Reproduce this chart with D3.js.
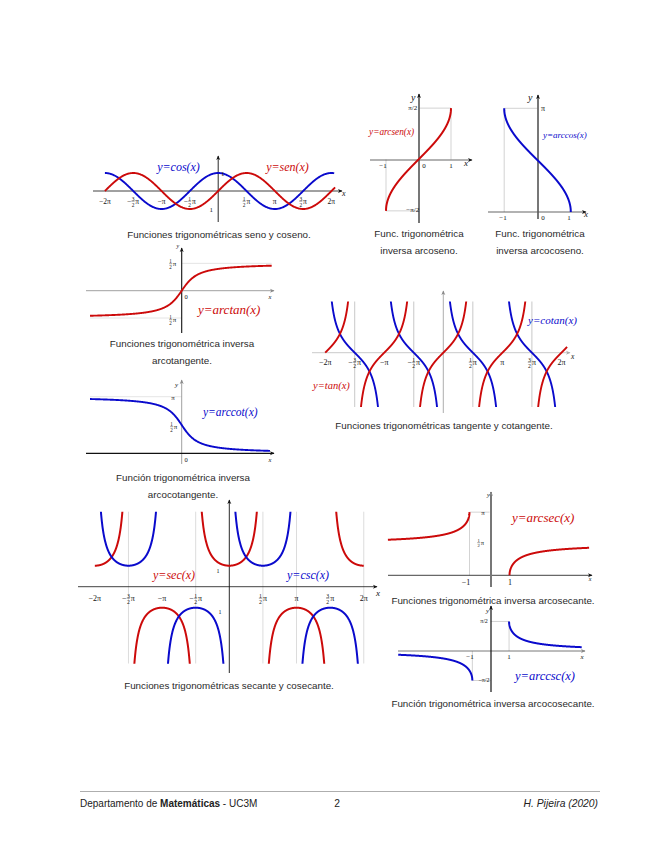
<!DOCTYPE html>
<html><head><meta charset="utf-8">
<script src="https://cdn.jsdelivr.net/npm/d3@7"></script>
<style>body{margin:0;background:#fff}</style>
</head><body><svg id="c" width="655" height="848"></svg>
<script>
const PI = Math.PI;
const RED = "#cc0a0a", BLUE = "#0a0acc", GUIDE = "#c8c8c8";
const SERIF = "'Liberation Serif', 'DejaVu Serif', serif";
const SANS = "'Liberation Sans', Arial, sans-serif";

// ---------- data ----------
const piTicks = [-2, -1.5, -1, -0.5, 0.5, 1, 1.5, 2];               // multiples of π
const piTickLabels = ["−2π", "−3/2π", "−π", "−1/2π", "1/2π", "π", "3/2π", "2π"];
const tanBranches = [[-2, -1.5], [-1.5, -0.5], [-0.5, 0.5], [0.5, 1.5], [1.5, 2.095]];
const cotBranches = [[-2, -1], [-1, 0], [0, 1], [1, 2]];
const secBranches = [[-2, -1.5], [-1.5, -0.5], [-0.5, 0.5], [0.5, 1.5], [1.5, 2]];
const cscBranches = [[-2, -1], [-1, 0], [0, 1], [1, 2]];
const tanGuides = [-1.5, -0.5, 0.5, 1.5];
const secGuides = [-1.5, -0.5, 0.5, 1, 2];
const captions = {
  sincos: ["Funciones trigonométricas seno y coseno."],
  asin: ["Func. trigonométrica", "inversa arcoseno."],
  acos: ["Func. trigonométrica", "inversa arcocoseno."],
  atan: ["Funciones trigonométrica inversa", "arcotangente."],
  tancot: ["Funciones trigonométricas tangente y cotangente."],
  acot: ["Función trigonométrica inversa", "arcocotangente."],
  seccsc: ["Funciones trigonométricas secante y cosecante."],
  asec: ["Funciones trigonométrica inversa arcosecante."],
  acsc: ["Función trigonométrica inversa arcocosecante."]
};
const fn = {
  sin: Math.sin, cos: Math.cos, tan: Math.tan, cot: x => 1 / Math.tan(x),
  sec: x => 1 / Math.cos(x), csc: x => 1 / Math.sin(x),
  asin: Math.asin, acos: Math.acos, atan: Math.atan, acot: x => PI / 2 - Math.atan(x),
  asec: x => Math.acos(1 / x), acsc: x => Math.asin(1 / x)
};

// ---------- helpers ----------
const svg = d3.select("#c");
svg.append("rect").attr("width", 655).attr("height", 848).attr("fill", "#fff");
const defs = svg.append("defs");
function marker(id, color) {
  defs.append("marker").attr("id", id).attr("viewBox", "0 0 10 10").attr("refX", 8).attr("refY", 5)
    .attr("markerWidth", 5).attr("markerHeight", 5).attr("markerUnits", "userSpaceOnUse").attr("orient", "auto")
    .append("path").attr("d", "M0,1 L9,5 L0,9 L2.5,5 Z").attr("fill", color);
}
marker("aK", "#111"); marker("aG", "#888"); marker("aL", "#aaa");

function S(x0, y0, sx, sy) {
  return { x: d3.scaleLinear().domain([0, 1]).range([x0, x0 + sx]),
           y: d3.scaleLinear().domain([0, 1]).range([y0, y0 - sy]) };
}
function line(g, x1, y1, x2, y2, color, w, mk) {
  const l = g.append("line").attr("x1", x1).attr("y1", y1).attr("x2", x2).attr("y2", y2)
    .attr("stroke", color).attr("stroke-width", w);
  if (mk) l.attr("marker-end", `url(#${mk})`);
  return l;
}
function poly(g, s, pts, color, w) {
  g.append("path").attr("d", d3.line().x(d => s.x(d[0])).y(d => s.y(d[1]))(pts))
    .attr("fill", "none").attr("stroke", color).attr("stroke-width", w);
}
function curve(g, s, f, a, b, color, w = 1.9, n = 500) {
  const pts = d3.range(n + 1).map(i => {
    const x = a + (b - a) * i / n;
    let y = f(x); y = Math.max(-40, Math.min(40, y));
    return [x, y];
  });
  poly(g, s, pts, color, w);
}
function txt(g, x, y, str, o = {}) {
  return g.append("text").attr("x", x).attr("y", y).text(str)
    .attr("font-family", o.family || SERIF).attr("font-size", o.size || 8)
    .attr("font-style", o.italic ? "italic" : "normal").attr("font-weight", o.weight || "normal")
    .attr("fill", o.color || "#111").attr("text-anchor", o.anchor || "start");
}
function caption(g, cx, y, lines) {
  lines.forEach((l, i) => txt(g, cx, y + i * 16.5, l, { family: SANS, size: 9.8, anchor: "middle", color: "#2a2a2a" }));
}
// math label, possibly with a stacked fraction; y is the vertical centre
function mlabel(g, x, y, str, size = 7.5, anchor = "middle") {
  const gg = g.append("g");
  const m = str.match(/^(−?)(\d+)\/(\d+)(.*)$/);
  const base = size * 0.35;
  if (!m) {
    txt(gg, 0, base, str, { size });
  } else {
    let cur = 0;
    if (m[1]) { const t = txt(gg, 0, base, "−", { size }); cur += t.node().getComputedTextLength() + 0.3; }
    const fs = size * 0.72;
    const a = txt(gg, cur, -0.9, m[2], { size: fs });
    const b = txt(gg, cur, fs * 0.95, m[3], { size: fs });
    const w = Math.max(a.node().getComputedTextLength(), b.node().getComputedTextLength());
    line(gg, cur - 0.2, -0.3, cur + w + 0.2, -0.3, "#111", 0.4);
    cur += w + 1;
    if (m[4]) txt(gg, cur, base, m[4], { size });
  }
  const bb = gg.node().getBBox();
  const dx = anchor === "middle" ? -bb.x - bb.width / 2 : anchor === "end" ? -bb.x - bb.width : -bb.x;
  gg.attr("transform", `translate(${x + dx},${y})`);
}
let clipId = 0;
function clipped(g, x, y, w, h) {
  const id = "cl" + (clipId++);
  defs.append("clipPath").attr("id", id).append("rect").attr("x", x).attr("y", y).attr("width", w).attr("height", h);
  return g.append("g").attr("clip-path", `url(#${id})`);
}

// ---------- Panel 1: sin / cos ----------
{
  const g = svg.append("g");
  const s = S(218.2, 191, 18.03, 18);
  line(g, 93, 191, 342, 191, "#111", 0.8, "aK");
  line(g, 218.2, 222, 218.2, 156, "#111", 0.9, "aK");
  curve(g, s, fn.cos, -2 * PI, 2 * PI + 0.15, BLUE);
  curve(g, s, fn.sin, -2 * PI, 2 * PI + 0.2, RED);
  piTicks.forEach((t, i) => mlabel(g, s.x(t * PI), 201.5, piTickLabels[i], 7.5));
  txt(g, 221, 176, "1", { size: 7 });
  txt(g, 209.5, 212, "1", { size: 7 });
  txt(g, 342, 196, "x", { size: 8, italic: true });
  txt(g, 178.5, 170.5, "y=cos(x)", { size: 12, italic: true, color: BLUE, anchor: "middle" });
  txt(g, 287.5, 170.5, "y=sen(x)", { size: 12, italic: true, color: RED, anchor: "middle" });
  caption(g, 219, 238, captions.sincos);
}

// ---------- Panel 2: arcsin ----------
{
  const g = svg.append("g");
  const s = S(418.5, 159.5, 32.5, 32.7);
  poly(g, s, [[0, PI / 2], [1, PI / 2], [1, 0]], GUIDE, 0.8);
  poly(g, s, [[-1, 0], [-1, -PI / 2], [0, -PI / 2]], GUIDE, 0.8);
  line(g, 370, 160, 472, 160, "#222", 0.7, "aK");
  line(g, 419, 223, 419, 94, "#555", 1.6, "aK");
  curve(g, s, fn.asin, -1, 1, RED, 2, 800);
  txt(g, 411, 101, "y", { size: 10, italic: true });
  mlabel(g, 413, 108, "π/2", 7, "middle");
  mlabel(g, 413, 210, "−π/2", 7, "middle");
  txt(g, 383, 168, "−1", { size: 7, anchor: "middle" });
  txt(g, 424, 168, "0", { size: 7, anchor: "middle" });
  txt(g, 451, 168, "1", { size: 7, anchor: "middle" });
  txt(g, 464, 166, "x", { size: 9, italic: true });
  txt(g, 369, 135, "y=arcsen(x)", { size: 9.3, italic: true, color: RED });
  caption(g, 419, 237, captions.asin);
}

// ---------- Panel 3: arccos ----------
{
  const g = svg.append("g");
  const s = S(537.5, 212, 33.3, 33);
  poly(g, s, [[-1, 0], [-1, PI], [0, PI]], GUIDE, 0.8);
  line(g, 488, 212, 586, 212, "#222", 0.7, "aK");
  line(g, 538, 219, 538, 95, "#555", 1.6, "aK");
  curve(g, s, fn.acos, -1, 1, BLUE, 2, 800);
  txt(g, 528, 101, "y", { size: 10, italic: true });
  txt(g, 541, 111, "π", { size: 8 });
  txt(g, 543, 138, "y=arccos(x)", { size: 9, italic: true, color: BLUE });
  txt(g, 503, 220, "−1", { size: 7, anchor: "middle" });
  txt(g, 543, 220, "0", { size: 7, anchor: "middle" });
  txt(g, 569, 220, "1", { size: 7, anchor: "middle" });
  txt(g, 584, 217, "x", { size: 9, italic: true });
  caption(g, 540, 237, captions.acos);
}

// ---------- Panel 4: arctan ----------
{
  const g = svg.append("g");
  const s = S(181.7, 290.7, 12, 17.4);
  const a = (90 - 181.7) / 12, b = (271.7 - 181.7) / 12;
  poly(g, s, [[0, PI / 2], [b, PI / 2]], "#dedede", 0.8);
  poly(g, s, [[a, -PI / 2], [0, -PI / 2]], "#dedede", 0.8);
  line(g, 86, 290.7, 274, 290.7, "#888", 0.8, "aG");
  line(g, 181.7, 333, 181.7, 248, "#111", 1.1, "aK");
  curve(g, s, fn.atan, a, b, RED, 1.9);
  txt(g, 176.5, 248, "y", { size: 6, italic: true });
  mlabel(g, 173, 264, "1/2π", 7, "middle");
  mlabel(g, 173, 320, "1/2π", 7, "middle");
  txt(g, 186, 299, "0", { size: 6.5, anchor: "middle" });
  txt(g, 270, 299, "x", { size: 6.5, italic: true, anchor: "middle" });
  txt(g, 198, 314, "y=arctan(x)", { size: 13, italic: true, color: RED });
  caption(g, 182, 347, captions.atan);
}

// ---------- Panel 5: tan / cot ----------
{
  const g = svg.append("g");
  const s = S(443.3, 352.7, 18.8, 18.8);
  tanGuides.forEach(t => line(g, s.x(t * PI), 301.5, s.x(t * PI), 407, GUIDE, 1));
  line(g, 312, 352.7, 570, 352.7, "#bbb", 0.8, "aL");
  line(g, 443.3, 413, 443.3, 291, "#999", 0.8, "aG");
  const c = clipped(g, 300, 301.5, 300, 105.5);
  const e = 1e-4;
  cotBranches.forEach(([p, q]) => curve(c, s, fn.cot, p * PI + e, q * PI - e, BLUE, 1.9));
  tanBranches.forEach(([p, q], i) => curve(c, s, fn.tan, p * PI + (i ? e : 0), q * PI - (i < 4 ? e : 0), RED, 1.9));
  piTicks.forEach((t, i) => mlabel(g, s.x(t * PI), 362.5, piTickLabels[i], 8));
  txt(g, 571, 359, "x", { size: 7.5, italic: true });
  txt(g, 528, 324, "y=cotan(x)", { size: 11, italic: true, color: BLUE });
  txt(g, 313, 389, "y=tan(x)", { size: 10.5, italic: true, color: RED });
  caption(g, 444, 429, captions.tancot);
}

// ---------- Panel 6: arccot ----------
{
  const g = svg.append("g");
  const s = S(181.7, 453.3, 12, 18.02);
  const a = (90 - 181.7) / 12, b = (270 - 181.7) / 12;
  poly(g, s, [[a, PI], [0, PI]], "#dedede", 0.8);
  line(g, 181.7, 464, 181.7, 380, "#888", 0.8, "aG");
  line(g, 86, 453.3, 274, 453.3, "#111", 1.3, "aK");
  curve(g, s, fn.acot, a, b, BLUE, 1.9);
  txt(g, 175, 387, "y", { size: 7, italic: true });
  txt(g, 173, 400, "π", { size: 7, anchor: "middle" });
  mlabel(g, 174, 427, "1/2π", 7, "middle");
  txt(g, 186, 462, "0", { size: 6.5, anchor: "middle" });
  txt(g, 270, 462, "x", { size: 6.5, italic: true, anchor: "middle" });
  txt(g, 203, 416, "y=arccot(x)", { size: 11.5, italic: true, color: BLUE });
  caption(g, 183, 481, captions.acot);
}

// ---------- Panel 7: sec / csc ----------
{
  const g = svg.append("g");
  const s = S(229.3, 586.7, 21.4, 21);
  secGuides.forEach(t => line(g, s.x(t * PI), 511.7, s.x(t * PI), 663.5, "#dcdcdc", 1));
  line(g, 78, 586.7, 377, 586.7, "#111", 0.8, "aK");
  line(g, 229.3, 673, 229.3, 500, "#111", 0.9, "aK");
  const c = clipped(g, 60, 511.7, 330, 152);
  const e = 1e-4;
  secBranches.forEach(([p, q], i) => curve(c, s, fn.sec, p * PI + (i ? e : 0), q * PI - (i < 4 ? e : 0), RED, 2));
  cscBranches.forEach(([p, q]) => curve(c, s, fn.csc, p * PI + e, q * PI - e, BLUE, 2));
  piTicks.forEach((t, i) => mlabel(g, s.x(t * PI), 598.5, piTickLabels[i], 8));
  txt(g, 218, 573, "1", { size: 6, anchor: "middle" });
  txt(g, 220, 614, "1", { size: 6, anchor: "middle" });
  txt(g, 376, 596, "x", { size: 9, italic: true });
  txt(g, 153, 579, "y=sec(x)", { size: 12, italic: true, color: RED });
  txt(g, 287, 579, "y=csc(x)", { size: 12, italic: true, color: BLUE });
  caption(g, 229, 689, captions.seccsc);
}

// ---------- Panel 8: arcsec ----------
{
  const g = svg.append("g");
  const s = S(489.5, 575.3, 20, 20.1);
  poly(g, s, [[-1, 0], [-1, PI], [0, PI]], GUIDE, 0.8);
  line(g, 388, 575.3, 592, 575.3, "#111", 0.8, "aK");
  line(g, 491, 587, 491, 492, "#777", 2, "aG");
  curve(g, s, fn.asec, -5.08, -1, RED, 2, 800);
  curve(g, s, fn.asec, 1, 4.98, RED, 2, 800);
  txt(g, 487, 497, "y", { size: 6, italic: true });
  txt(g, 483, 515, "π", { size: 7, anchor: "middle" });
  mlabel(g, 481, 543, "1/2π", 6.5, "middle");
  txt(g, 466, 585, "−1", { size: 8, anchor: "middle" });
  txt(g, 510, 585, "1", { size: 8, anchor: "middle" });
  txt(g, 590, 581, "x", { size: 6, italic: true, anchor: "middle" });
  txt(g, 512, 522, "y=arcsec(x)", { size: 13, italic: true, color: RED });
  caption(g, 493, 604, captions.asec);
}

// ---------- Panel 9: arccsc ----------
{
  const g = svg.append("g");
  const s = S(490.7, 651, 18.35, 18.8);
  poly(g, s, [[0, PI / 2], [1, PI / 2], [1, 0]], GUIDE, 0.8);
  poly(g, s, [[-1, 0], [-1, -PI / 2], [0, -PI / 2]], GUIDE, 0.8);
  line(g, 398, 651, 585, 651, "#555", 0.8, "aG");
  line(g, 491, 692, 491, 606, "#111", 1.2, "aK");
  curve(g, s, fn.acsc, 1, 4.96, BLUE, 2, 800);
  curve(g, s, fn.acsc, -5.04, -1, BLUE, 2, 800);
  txt(g, 486, 613, "y", { size: 7, italic: true });
  mlabel(g, 484, 621, "π/2", 6, "middle");
  mlabel(g, 484, 680, "−π/2", 6, "middle");
  txt(g, 470, 659, "−1", { size: 7, anchor: "middle" });
  txt(g, 509, 659, "1", { size: 7, anchor: "middle" });
  txt(g, 582, 659, "x", { size: 7, italic: true, anchor: "middle" });
  txt(g, 515, 680, "y=arccsc(x)", { size: 12.5, italic: true, color: BLUE });
  caption(g, 493, 707, captions.acsc);
}

// ---------- Footer ----------
{
  const g = svg.append("g");
  line(g, 80, 791.5, 600, 791.5, "#777", 0.6);
  const t = g.append("text").attr("x", 80).attr("y", 806.5).attr("font-family", SANS).attr("font-size", 10).attr("fill", "#222");
  t.append("tspan").text("Departamento de ");
  t.append("tspan").attr("font-weight", "bold").text("Matemáticas");
  t.append("tspan").text(" - UC3M");
  txt(g, 337, 806.5, "2", { family: SANS, size: 10.3, anchor: "middle", color: "#222" });
  txt(g, 598, 806.5, "H. Pijeira (2020)", { family: SANS, size: 10.3, italic: true, anchor: "end", color: "#222" });
}
</script>
</body></html>
